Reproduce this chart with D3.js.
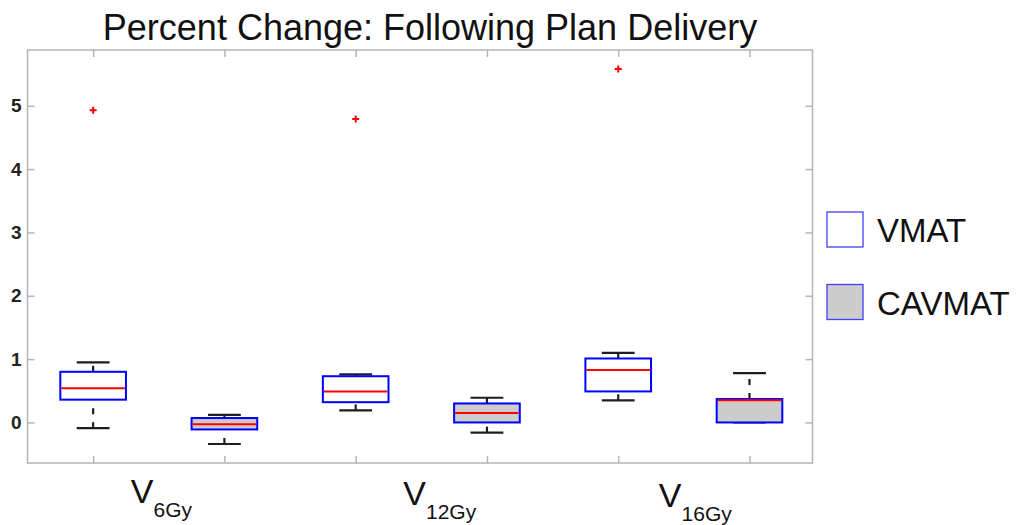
<!DOCTYPE html>
<html>
<head>
<meta charset="utf-8">
<script src="https://cdn.jsdelivr.net/npm/d3@7"></script>
<style>
  body { margin: 0; background: #fff; }
  svg text { font-family: 'Liberation Sans', Arial, sans-serif; }
</style>
</head>
<body>
<div id="chart"></div>
<script>
// groups along the x axis (base letter + subscript)
const groupBase = ['V', 'V', 'V'];
const groupSub = ['6Gy', '12Gy', '16Gy'];
const series = ['VMAT', 'CAVMAT'];

// VMAT box stats per group
const vmatLow = [-0.09, 0.19, 0.35];
const vmatQ1 = [0.36, 0.32, 0.49];
const vmatMed = [0.54, 0.49, 0.83];
const vmatQ3 = [0.80, 0.73, 1.01];
const vmatHigh = [0.95, 0.76, 1.10];
const vmatOutliers = [4.93, 4.79, 5.58];

// CAVMAT box stats per group
const cavLow = [-0.34, -0.16, 0.0];
const cavQ1 = [-0.11, 0.0, 0.0];
const cavMed = [-0.03, 0.15, 0.35];
const cavQ3 = [0.07, 0.30, 0.37];
const cavHigh = [0.12, 0.39, 0.78];
const cavOutliers = [];

const yTicks = [0, 1, 2, 3, 4, 5];

// build one list of boxes, position 1..6
const boxes = [];
groupSub.forEach((g, i) => {
    boxes.push({ pos: 2 * i + 1, series: 'VMAT', low: vmatLow[i], q1: vmatQ1[i], med: vmatMed[i], q3: vmatQ3[i], high: vmatHigh[i], out: vmatOutliers[i] != null ? [vmatOutliers[i]] : [] });
    boxes.push({ pos: 2 * i + 2, series: 'CAVMAT', low: cavLow[i], q1: cavQ1[i], med: cavMed[i], q3: cavQ3[i], high: cavHigh[i], out: cavOutliers[i] != null ? [cavOutliers[i]] : [] });
});

const width = 1024;
const height = 525;
const plot = { left: 27.5, right: 812.5, top: 50, bottom: 463 };

const fills = { VMAT: '#ffffff', CAVMAT: '#cccccc' };
const axisColor = '#b5b5b5';
const whiskerColor = '#1e1e1e';

const x = d3.scaleLinear().domain([0.5, 6.48]).range([plot.left, plot.right]);
const y = d3.scaleLinear().domain([-0.64, 5.88]).range([plot.bottom, plot.top]);

const boxW = x(1.5) - x(1);      // half a unit wide
const capW = x(1.25) - x(1);

const svg = d3.select('#chart')
    .append('svg')
    .attr('width', width)
    .attr('height', height);

// title
svg.append('text')
    .attr('x', 430)
    .attr('y', 40)
    .attr('text-anchor', 'middle')
    .style('font-size', '36px')
    .attr('fill', '#111')
    .text('Percent Change: Following Plan Delivery');

// axes (ticks pointing inward)
const tickLen = 7;
const yAxisL = svg.append('g')
    .attr('transform', `translate(${plot.left},0)`)
    .call(d3.axisLeft(y).tickValues(yTicks).tickSize(-tickLen).tickPadding(6).tickFormat(d3.format('d')));
const yAxisR = svg.append('g')
    .attr('transform', `translate(${plot.right},0)`)
    .call(d3.axisRight(y).tickValues(yTicks).tickSize(-tickLen).tickFormat(''));
const xAxisB = svg.append('g')
    .attr('transform', `translate(0,${plot.bottom})`)
    .call(d3.axisBottom(x).tickValues(d3.range(1, 7)).tickSize(-tickLen).tickFormat(''));
const xAxisT = svg.append('g')
    .attr('transform', `translate(0,${plot.top})`)
    .call(d3.axisTop(x).tickValues(d3.range(1, 7)).tickSize(-tickLen).tickFormat(''));

[yAxisL, yAxisR, xAxisB, xAxisT].forEach(a => {
    a.select('.domain').remove();
    a.selectAll('line').attr('stroke', axisColor).attr('stroke-width', 1.5);
});
yAxisL.selectAll('text')
    .style('font-size', '19px')
    .style('font-weight', 'bold')
    .attr('fill', '#222')
    .style('font-family', "'Liberation Sans', Arial, sans-serif");

svg.append('rect')
    .attr('x', plot.left)
    .attr('y', plot.top)
    .attr('width', plot.right - plot.left)
    .attr('height', plot.bottom - plot.top)
    .attr('fill', 'none')
    .attr('stroke', axisColor)
    .attr('stroke-width', 1.5);

// boxes
const bg = svg.selectAll('.box')
    .data(boxes)
    .join('g')
    .attr('class', 'box');

// whiskers, drawn bottom-to-top like matlab so dashes line up
bg.filter(d => d.low < d.q1).append('line')
    .attr('x1', d => x(d.pos)).attr('x2', d => x(d.pos))
    .attr('y1', d => y(d.low)).attr('y2', d => y(d.q1))
    .attr('stroke', whiskerColor).attr('stroke-width', 2.2)
    .attr('stroke-dasharray', '6,8');
bg.filter(d => d.high > d.q3).append('line')
    .attr('x1', d => x(d.pos)).attr('x2', d => x(d.pos))
    .attr('y1', d => y(d.q3)).attr('y2', d => y(d.high))
    .attr('stroke', whiskerColor).attr('stroke-width', 2.2)
    .attr('stroke-dasharray', '6,8');

// caps
bg.selectAll('.cap')
    .data(d => [d.low, d.high].map(v => ({ pos: d.pos, v })))
    .join('line')
    .attr('class', 'cap')
    .attr('x1', d => x(d.pos) - capW / 2)
    .attr('x2', d => x(d.pos) + capW / 2)
    .attr('y1', d => y(d.v))
    .attr('y2', d => y(d.v))
    .attr('stroke', whiskerColor)
    .attr('stroke-width', 2.2);

bg.append('rect')
    .attr('x', d => x(d.pos) - boxW / 2)
    .attr('y', d => y(d.q3))
    .attr('width', boxW)
    .attr('height', d => y(d.q1) - y(d.q3))
    .attr('fill', d => fills[d.series])
    .attr('stroke', '#0000ff')
    .attr('stroke-width', 2);

bg.append('line')
    .attr('x1', d => x(d.pos) - boxW / 2 + 1)
    .attr('x2', d => x(d.pos) + boxW / 2 - 1)
    .attr('y1', d => y(d.med))
    .attr('y2', d => y(d.med))
    .attr('stroke', '#ff0000')
    .attr('stroke-width', 2);

// outliers as red plus signs
const plus = 3.5;
bg.selectAll('.outlier')
    .data(d => d.out.map(v => ({ pos: d.pos, v })))
    .join('path')
    .attr('class', 'outlier')
    .attr('d', d => `M${x(d.pos) - plus},${y(d.v)}h${2 * plus}M${x(d.pos)},${y(d.v) - plus}v${2 * plus}`)
    .attr('stroke', '#ff0000')
    .attr('stroke-width', 2);

// group labels under each pair
const labelNudge = [-28, -18, -25];
const labelDrop = [0, 1.5, 4];
groupSub.forEach((g, i) => {
    const t = svg.append('text')
        .attr('x', x(2 * i + 1.5) + labelNudge[i])
        .attr('y', 503 + labelDrop[i])
        .attr('fill', '#111')
        .style('font-size', '34px');
    t.append('tspan').text(groupBase[i]);
    t.append('tspan')
        .attr('dy', 14)
        .style('font-size', '21px')
        .text(g);
});

// legend
const legend = svg.append('g')
    .attr('transform', 'translate(827,212)');
const li = legend.selectAll('.item')
    .data(series)
    .join('g')
    .attr('class', 'item')
    .attr('transform', (d, i) => `translate(0,${i * 72.5})`);
li.append('rect')
    .attr('width', 36)
    .attr('height', 35)
    .attr('fill', d => fills[d])
    .attr('stroke', '#4040ff')
    .attr('stroke-width', 1.3);
li.append('text')
    .attr('x', 50)
    .attr('y', 30)
    .attr('fill', '#111')
    .style('font-size', '33px')
    .text(d => d);
</script>
</body>
</html>
